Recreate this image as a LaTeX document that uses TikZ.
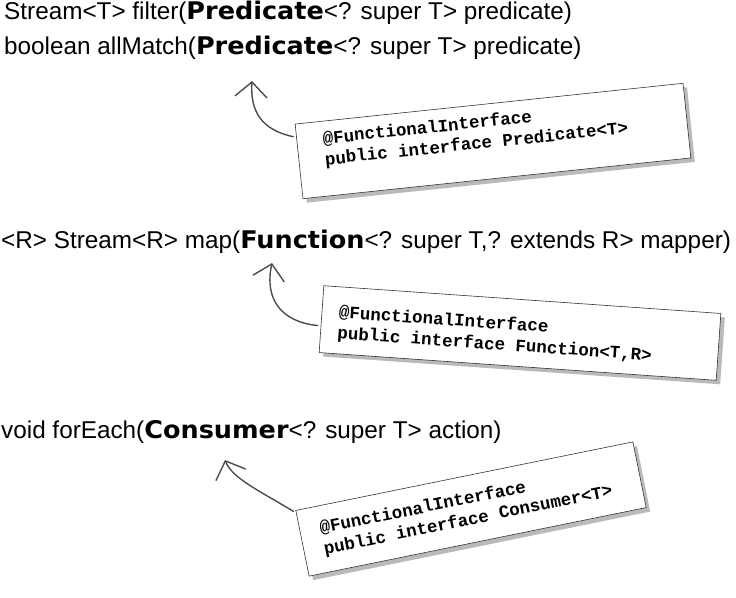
\documentclass[tikz,border=0pt]{standalone}
\usepackage{fontspec}
\setmainfont{Liberation Sans}
\setmonofont{Liberation Mono}
\newfontfamily\heavyfont{DejaVu Sans}[BoldFeatures={FakeStretch=1.05}]
\usetikzlibrary{arrows.meta,shadows,calc}

\newcommand{\sig}[1]{{\heavyfont\bfseries #1}}
% #2 = room above the first baseline, #3 = room below it
\newcommand{\iface}[3]{\rule[-#3]{0pt}{\dimexpr#2+#3\relax}\begin{tabular}[t]{@{}l@{}}@FunctionalInterface\\\spaceskip=0pt\relax public interface #1\end{tabular}}

\begin{document}
\begin{tikzpicture}[
  x=1bp, y=-1bp,
  line/.style={anchor=base west, inner sep=0pt, font=\fontsize{24.3bp}{28bp}\selectfont},
  card/.style={draw=black!80, line width=0.6pt, fill=white, rectangle, align=left,
    inner ysep=0pt, font=\fontsize{17.5bp}{21bp}\selectfont\ttfamily\bfseries,
    drop shadow={shadow xshift=4bp, shadow yshift=-4bp, fill=black!60, opacity=0.45}},
  arr/.style={draw=black!70, line width=1.4pt, line cap=round, shorten <=3bp,
    -{Straight Barb[length=15bp, width=32bp, line width=1.4pt]}}
]
\useasboundingbox (0,0) rectangle (736,598);

\node[line] (filter) at (4,20) {Stream<T> filter(\sig{Predicate}<? super T> predicate)};
\node[line] (allmatch) at (4,55) {boolean allMatch(\sig{Predicate}<? super T> predicate)};
\node[line] (map) at (1,248) {<R> Stream<R> map(\sig{Function}<? super T,? extends R> mapper)};
\node[line] (foreach) at (1,438) {void forEach(\sig{Consumer}<? super T> action)};

\node[card, rotate=6, inner xsep=26bp, text width=338bp] (predicate) at (493,141)
  {\iface{Predicate<T>}{23bp}{52bp}};
\node[card, rotate=-4, inner xsep=17bp, text width=364bp] (function) at (520,333)
  {\iface{Function<T,R>}{31bp}{36bp}};
\node[card, rotate=11.5, inner xsep=20bp, text width=304bp] (consumer) at (471,509)
  {\iface{Consumer<T>}{28bp}{39bp}};

\coordinate (tipP) at (252,81);
\coordinate (tipF) at (272,263);
\coordinate (tipC) at (225,460);

\draw[arr] ($(predicate.north west)!0.18!(predicate.south west)$) .. controls (262,130) and (250,112) .. (tipP);
\draw[arr] ($(function.north west)!0.6!(function.south west)$) .. controls (282,322) and (264,300) .. (tipF);
\draw[arr] ($(consumer.north west)!0.04!(consumer.south west)$) .. controls (258,490) and (232,478) .. (tipC);
\end{tikzpicture}
\end{document}
